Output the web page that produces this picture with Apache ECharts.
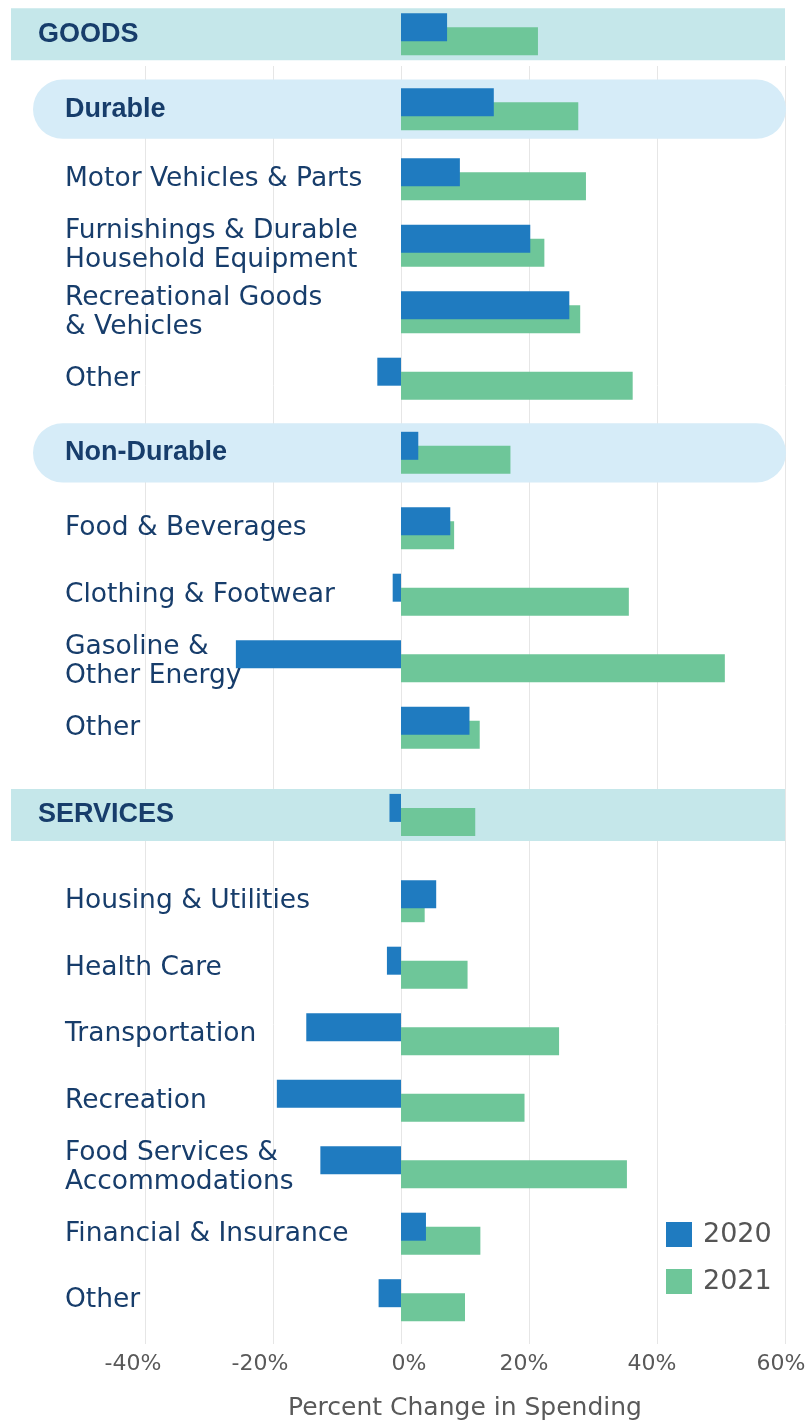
<!DOCTYPE html>
<html>
<head>
<meta charset="utf-8">
<script src="https://cdn.jsdelivr.net/npm/echarts@6/dist/echarts.min.js"></script>
<style>
  html, body { margin: 0; padding: 0; background: #ffffff; }
  #chart { width: 809px; height: 1422px; }
</style>
</head>
<body>
<div id="chart"></div>
<script>
// Spending categories, top to bottom
const categories = [
  'GOODS',
  'Durable',
  'Motor Vehicles & Parts',
  'Furnishings & Durable\nHousehold Equipment',
  'Recreational Goods\n& Vehicles',
  'Other',
  'Non-Durable',
  'Food & Beverages',
  'Clothing & Footwear',
  'Gasoline &\nOther Energy',
  'Other',
  'SERVICES',
  'Housing & Utilities',
  'Health Care',
  'Transportation',
  'Recreation',
  'Food Services &\nAccommodations',
  'Financial & Insurance',
  'Other'
];

// Percent change in spending
const values2020 = [7.2, 14.5, 9.2, 20.2, 26.3, -3.7, 2.7, 7.7, -1.3, -25.8, 10.7,
                    -1.8, 5.5, -2.2, -14.8, -19.4, -12.6, 3.9, -3.5];
const values2021 = [21.4, 27.7, 28.9, 22.4, 28.0, 36.2, 17.1, 8.3, 35.6, 50.6, 12.3,
                    11.6, 3.7, 10.4, 24.7, 19.3, 35.3, 12.4, 10.0];

const seriesNames = ['2020', '2021'];
const axisMin = -40, axisMax = 60, axisStep = 20;

// ---- layout ----
const W = 809;
const PLOT_LEFT = 145, PLOT_RIGHT = 24;
const PITCH = 66.5;
// row groups: section header, sub-header, or list of items
const groups = [
  { from: 0,  to: 1,  kind: 'section', firstCenter: 34.2 },
  { from: 1,  to: 2,  kind: 'sub',     firstCenter: 109.2 },
  { from: 2,  to: 6,  kind: 'item',    firstCenter: 179.2 },
  { from: 6,  to: 7,  kind: 'sub',     firstCenter: 452.8 },
  { from: 7,  to: 11, kind: 'item',    firstCenter: 528.2 },
  { from: 11, to: 12, kind: 'section', firstCenter: 814.9 },
  { from: 12, to: 19, kind: 'item',    firstCenter: 901.2 }
];

// small horizontal nudges of the percent labels (right padding, px)
const tickNudge = { '-40': 24, '-20': 26, '0': 0, '20': 10, '40': 10, '60': 8 };

const COLORS = { y2020: '#1f7bc0', y2021: '#6ec699', section: '#c5e7ea', sub: '#d6ecf8' };
const TEXT_DARK = '#173d6b';
const TEXT_GREY = '#595959';
const FONT = 'DejaVu Sans';
const BOLD_FONT = 'Liberation Sans';

const grids = [], xAxes = [], yAxes = [], series = [], graphics = [];

const tickRich = {};
Object.keys(tickNudge).forEach((k, i) => {
  const p = tickNudge[k];
  tickRich['t' + i] = {
    color: TEXT_GREY, fontFamily: FONT, fontSize: 22,
    padding: k === '0' ? [0, 0, 0, 16] : [0, p, 0, 0]
  };
});

// Background grid carrying the gridlines and the percent axis
grids.push({ left: PLOT_LEFT, right: PLOT_RIGHT, top: 66, bottom: 78, outerBoundsMode: 'none', containLabel: false });
xAxes.push({
  gridIndex: 0, type: 'value', min: axisMin, max: axisMax, interval: axisStep,
  axisLine: { show: false }, axisTick: { show: false },
  splitLine: { show: true, lineStyle: { color: '#e6e6e6', width: 1 } },
  axisLabel: {
    margin: 9,
    formatter: (v) => {
      const keys = Object.keys(tickNudge);
      const i = keys.indexOf(String(v));
      return '{t' + (i < 0 ? 0 : i) + '|' + v + '%}';
    },
    rich: tickRich
  },
  name: 'Percent Change in Spending', nameLocation: 'middle', nameGap: 52,
  nameTextStyle: { color: TEXT_GREY, fontFamily: FONT, fontSize: 25 }
});
yAxes.push({ gridIndex: 0, type: 'value', show: false, min: 0, max: 1 });

groups.forEach((g, gi) => {
  const idx = gi + 1;
  const n = g.to - g.from;
  const top = g.firstCenter - PITCH / 2;
  grids.push({ left: PLOT_LEFT, right: PLOT_RIGHT, top: top, height: n * PITCH, outerBoundsMode: 'none', containLabel: false });

  xAxes.push({
    gridIndex: idx, type: 'value', min: axisMin, max: axisMax, interval: axisStep,
    show: false, splitLine: { show: false }
  });

  const labelStyle = g.kind === 'item'
    ? { fontFamily: FONT, fontSize: 26.5, lineHeight: 29, color: TEXT_DARK, margin: 80 }
    : g.kind === 'sub'
      ? { fontFamily: BOLD_FONT, fontWeight: 'bold', fontSize: 27, color: TEXT_DARK, margin: 80 }
      : { fontFamily: BOLD_FONT, fontWeight: 'bold', fontSize: 27, color: TEXT_DARK, margin: 107 };

  yAxes.push({
    gridIndex: idx, type: 'category', inverse: true, z: 5,
    data: categories.slice(g.from, g.to),
    axisLine: { show: false }, axisTick: { show: false }, splitLine: { show: false },
    axisLabel: Object.assign({ align: 'left', verticalAlign: 'middle', interval: 0 }, labelStyle)
  });

  series.push({
    name: seriesNames[0], type: 'bar', xAxisIndex: idx, yAxisIndex: idx,
    data: values2020.slice(g.from, g.to),
    barWidth: 28, barGap: '-50%', z: 3,
    itemStyle: { color: COLORS.y2020 }
  });
  series.push({
    name: seriesNames[1], type: 'bar', xAxisIndex: idx, yAxisIndex: idx,
    data: values2021.slice(g.from, g.to),
    barWidth: 28, barGap: '-50%', z: 2,
    itemStyle: { color: COLORS.y2021 }
  });

  // header bands behind the bars
  if (g.kind === 'section') {
    graphics.push({
      type: 'rect', z: 1, silent: true,
      shape: { x: 11, y: g.firstCenter - 26, width: W - PLOT_RIGHT - 11, height: 52 },
      style: { fill: COLORS.section }
    });
  } else if (g.kind === 'sub') {
    const h = 59.2;
    graphics.push({
      type: 'rect', z: 1, silent: true,
      shape: { x: 33, y: g.firstCenter - h / 2, width: W - PLOT_RIGHT + 1 - 33, height: h, r: h / 2 },
      style: { fill: COLORS.sub }
    });
  }
});

const chart = echarts.init(document.getElementById('chart'), null, { renderer: 'canvas' });
chart.setOption({
  animation: false,
  backgroundColor: '#ffffff',
  grid: grids,
  xAxis: xAxes,
  yAxis: yAxes,
  series: series,
  graphic: graphics,
  legend: {
    data: seriesNames, orient: 'vertical', left: 666, top: 1221, padding: 0,
    icon: 'rect', itemWidth: 26, itemHeight: 25, itemGap: 20, selectedMode: false,
    textStyle: { fontFamily: FONT, fontSize: 27, color: '#555555', padding: [4, 0, 0, 6] }
  }
});
</script>
</body>
</html>
